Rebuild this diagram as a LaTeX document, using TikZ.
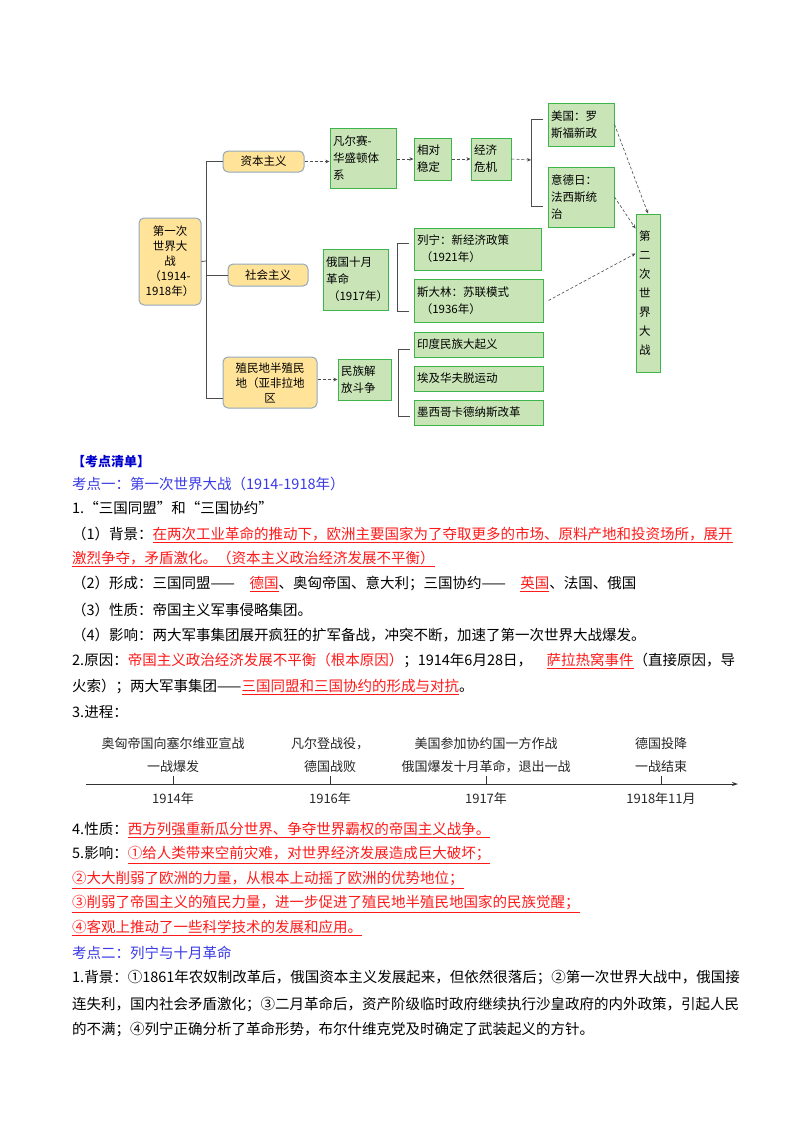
\documentclass[tikz,border=0pt]{standalone}
\usepackage{fontspec}
\setmainfont{Noto Sans CJK SC}
\usetikzlibrary{arrows.meta}
\definecolor{gfill}{HTML}{C9E5B8}
\definecolor{gline}{HTML}{3DB54A}
\definecolor{yfill}{HTML}{FFE399}
\definecolor{yline}{HTML}{93A8BE}
\definecolor{kblue}{HTML}{3A3AE6}
\definecolor{kred}{HTML}{FF1A1A}
\newcommand\ru[1]{\textcolor{kred}{\underline{#1}}}
\newcommand\mybox[7]{%
  \pgfmathsetmacro\bw{#4-#2}\pgfmathsetmacro\bh{#5-#3}%
  \pgfmathsetmacro\tw{#4-#2-6}%
  \node[#6,minimum width=\bw pt,minimum height=\bh pt,text width=\tw pt] (#1) at ({(#2+#4)/2},{(#3+#5)/2}) {#7};}
\begin{document}
\begin{tikzpicture}[x=1pt,y=-1pt,
  g/.style={draw=gline,line width=1pt,fill=gfill,inner xsep=3pt,inner ysep=1pt,align=left,font=\fontsize{11.5}{17}\selectfont},
  yb/.style={draw=yline,line width=1pt,fill=yfill,rounded corners=5pt,inner xsep=3pt,inner ysep=1pt,align=center,font=\fontsize{11.5}{15}\selectfont},
  da/.style={densely dashed,draw=black!70,line width=0.6pt,-{Stealth[length=4pt,width=3.5pt]}},
  br/.style={draw=black!70,line width=0.8pt},
  t/.style={anchor=west,inner sep=0pt,font=\fontsize{14.5}{16}\selectfont},
  tl/.style={anchor=center,inner sep=0pt,font=\fontsize{13}{15}\selectfont,text=black!85}]
\useasboundingbox (0,0) rectangle (800,1132);
\fill[white] (0,0) rectangle (800,1132);
% diagram
\mybox{ww}{139}{218}{201}{305}{yb}{第一次\\世界大\\战\\（1914-\\1918年）}
\mybox{zb}{223}{151}{304}{172}{yb}{资本主义}
\mybox{sh}{228}{264}{308}{286}{yb}{社会主义}
\mybox{zm}{223}{357}{317}{408}{yb}{殖民地半殖民\\地（亚非拉地\\区}
\mybox{fe}{330}{128}{396}{188}{g}{凡尔赛-\\华盛顿体\\系}
\mybox{xd}{414}{138}{451}{180}{g}{相对\\稳定}
\mybox{jj}{471}{138}{511}{180}{g}{经济\\危机}
\mybox{mg}{548}{103}{614}{146}{g}{美国：罗\\斯福新政}
\mybox{yd}{548}{167}{614}{227}{g}{意德日：\\法西斯统\\治}
\mybox{er}{636}{214}{660}{372}{g,font=\fontsize{11.5}{19}\selectfont}{第\\二\\次\\世\\界\\大\\战}
\mybox{sy}{323}{249}{388}{310}{g}{俄国十月\\革命\\\hbox to 0pt{\hspace{2pt}（1917年）\hss}}
\mybox{ln}{414}{228}{541}{270}{g}{列宁：新经济政策\\\ （1921年）}
\mybox{sd}{414}{279}{543}{322}{g}{斯大林：苏联模式\\\ （1936年）}
\mybox{mz}{338}{359}{391}{400}{g}{民族解\\放斗争}
\mybox{yn}{414}{332}{543}{357}{g}{印度民族大起义}
\mybox{ai}{414}{366}{543}{391}{g}{埃及华夫脱运动}
\mybox{mx}{414}{400}{543}{425}{g}{墨西哥卡德纳斯改革}
% brackets
\draw[br] (zb.west) -- (206,161.5) -- (206,398) -- (zm.west |- 0,398);
\draw[br] (ww.east) -- (206,261);
\draw[br] (sh.west) -- (206,275);
\draw[br] (543,119) -- (531,119) -- (531,206) -- (543,206);
\draw[br] (409,243) -- (397,243) -- (397,311) -- (409,311);
\draw[br] (410,349) -- (398,349) -- (398,416) -- (410,416);
\coordinate (b1) at (531,160);
\draw[da] (zb.east) -- (fe.west |- zb.east);
\draw[da] (fe.east |- xd.west) -- (xd.west);
\draw[da] (xd.east) -- (jj.west);
\draw[da] (jj.east) -- (b1);
\draw[da] (zm.east |- mz.west) -- (mz.west);
\draw[da] (mg.east) -- (er.north);
\draw[da] (yd.east) -- ([yshift=-15pt]er.north west);
\draw[da] ([xshift=5pt]sd.east) -- ([yshift=-40pt]er.north west);
% text
\node[t,text=blue!80!black,font=\fontsize{13}{16}\bfseries\selectfont] (h0) at (72,462) {【考点清单】};
\node[t,text=kblue] (h1) at (72,484) {考点一：第一次世界大战（1914-1918年）};
\node[t] (l1) at (72,508) {1.“三国同盟”和“三国协约”};
\node[t] (l2) at (72,535) {（1）背景：\ru{在两次工业革命的推动下，欧洲主要国家为了夺取更多的市场、原料产地和投资场所，展开}};
\node[t] (l3) at (72,559) {\ru{激烈争夺，矛盾激化。（资本主义政治经济发展不平衡）}};
\node[t] (l4) at (72,584) {（2）形成：三国同盟——\quad\ru{德国}、奥匈帝国、意大利；三国协约——\quad\ru{英国}、法国、俄国};
\node[t] (l5) at (72,610) {（3）性质：帝国主义军事侵略集团。};
\node[t] (l6) at (72,635) {（4）影响：两大军事集团展开疯狂的扩军备战，冲突不断，加速了第一次世界大战爆发。};
\node[t] (l7) at (72,661) {2.原因：\textcolor{kred}{帝国主义政治经济发展不平衡（根本原因）}；1914年6月28日，\quad\ru{萨拉热窝事件}（直接原因，导};
\node[t] (l8) at (72,687) {火索）；两大军事集团——\ru{三国同盟和三国协约的形成与对抗}。};
\node[t] (l9) at (72,712) {3.进程：};
% timeline
\coordinate (a0) at (86,784);
\coordinate (a1) at (738,784);
\draw[line width=0.9pt,draw=black!80,-{Stealth[length=6pt,width=4pt]}] (a0) -- (a1);
\foreach \x/\n in {173/p1,330/p2,486/p3,661/p4}{\coordinate (\n) at (\x,784); \draw[line width=0.9pt,black!80] (\n) -- ++(0,-8);}
\node[tl] (e1a) at (173,744) {奥匈帝国向塞尔维亚宣战};
\node[tl] (e1b) at (173,767) {一战爆发};
\node[tl] (e2a) at (330,744) {凡尔登战役，};
\node[tl] (e2b) at (330,767) {德国战败};
\node[tl] (e3a) at (486,744) {美国参加协约国一方作战};
\node[tl] (e3b) at (486,767) {俄国爆发十月革命，退出一战};
\node[tl] (e4a) at (661,744) {德国投降};
\node[tl] (e4b) at (661,767) {一战结束};
\node[tl] (y1) at (173,799) {1914年};
\node[tl] (y2) at (330,799) {1916年};
\node[tl] (y3) at (486,799) {1917年};
\node[tl] (y4) at (661,799) {1918年11月};
\node[t] (m1) at (72,830) {4.性质：\ru{西方列强重新瓜分世界、争夺世界霸权的帝国主义战争。}};
\node[t] (m2) at (72,855) {5.影响：\ru{①给人类带来空前灾难，对世界经济发展造成巨大破坏；}};
\node[t] (m3) at (72,880) {\ru{②大大削弱了欧洲的力量，从根本上动摇了欧洲的优势地位；}};
\node[t] (m4) at (72,904) {\ru{③削弱了帝国主义的殖民力量，进一步促进了殖民地半殖民地国家的民族觉醒；}};
\node[t] (m5) at (72,928) {\ru{④客观上推动了一些科学技术的发展和应用。}};
\node[t,text=kblue] (h2) at (72,953) {考点二：列宁与十月革命};
\node[t] (n1) at (72,978) {1.背景：①1861年农奴制改革后，俄国资本主义发展起来，但依然很落后；②第一次世界大战中，俄国接};
\node[t] (n2) at (72,1004) {连失利，国内社会矛盾激化；③二月革命后，资产阶级临时政府继续执行沙皇政府的内外政策，引起人民};
\node[t] (n3) at (72,1029) {的不满；④列宁正确分析了革命形势，布尔什维克党及时确定了武装起义的方针。};
\end{tikzpicture}
\end{document}
